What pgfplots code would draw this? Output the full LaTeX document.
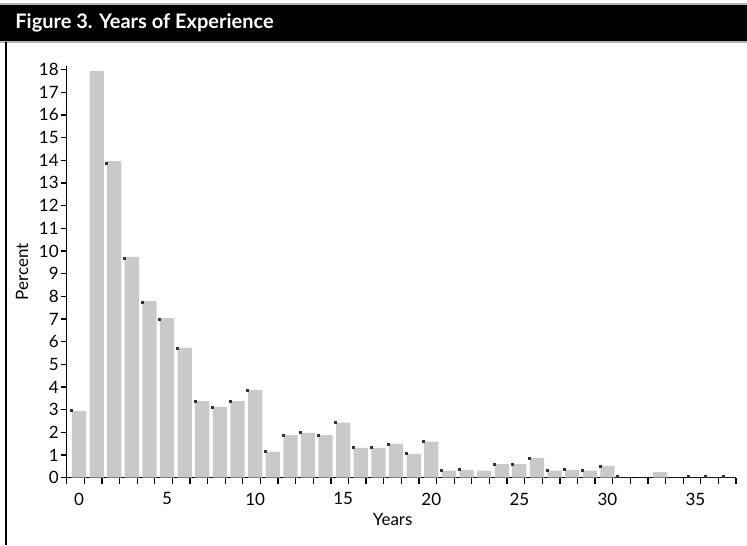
\documentclass[border=0pt]{standalone}
\usepackage{pgfplots}
\pgfplotsset{compat=1.18}
\usepackage{pgfplotstable}
\usepackage{fontspec}
\setmainfont{Lato}
\definecolor{barGray}{HTML}{C8C9CB}
\definecolor{markGray}{HTML}{333333}
\pgfplotstableread{
x y
0 2.95
1 17.93
2 13.96
3 9.74
4 7.79
5 7.04
6 5.73
7 3.38
8 3.12
9 3.38
10 3.87
11 1.15
12 1.88
13 1.98
14 1.88
15 2.43
16 1.32
17 1.32
18 1.49
19 1.05
20 1.59
21 0.31
22 0.35
23 0.31
24 0.60
25 0.60
26 0.87
27 0.31
28 0.35
29 0.31
30 0.52
31 0
32 0
33 0.25
34 0
35 0
36 0
37 0
}\bars
\pgfplotstableread{
x y
0 2.95
2 13.85
3 9.66
4 7.74
5 6.98
6 5.70
7 3.38
8 3.12
9 3.38
10 3.87
11 1.15
12 1.88
13 1.98
14 1.88
15 2.43
16 1.32
17 1.32
18 1.49
19 1.05
20 1.59
21 0.31
22 0.35
24 0.60
25 0.60
26 0.87
27 0.31
28 0.35
29 0.31
30 0.52
31 0.06
35 0.06
36 0.06
37 0.06
}\marks
\begin{document}
\begin{tikzpicture}
\useasboundingbox (0,0) rectangle (373.5pt,-272.5pt);
\fill[black] (0,-2pt) rectangle (373.5pt,-21pt);
\draw[gray!60, line width=0.6pt] (0,-2pt) -- (373.5pt,-2pt);
\draw[gray!60, line width=0.6pt] (0,-21pt) -- (373.5pt,-21pt);
\draw[black, line width=0.65pt] (3pt,-21pt) -- (3pt,-272.5pt);
\node[anchor=west, text=white, inner sep=0pt, font=\bfseries\fontsize{10}{12}\selectfont] at (7.5pt,-11.5pt) {Figure 3. Years of Experience};
\begin{axis}[
  at={(33.35pt,-238.85pt)}, anchor=south west,
  scale only axis, width=334.65pt, height=205.8pt,
  xmin=-0.7, xmax=37.3, ymin=0, ymax=18.15,
  axis x line*=bottom, axis y line*=left,
  axis line style={line width=0.65pt, -},
  tick style={line width=0.65pt, black},
  tick align=outside,
  major tick length=3pt,
  ytick={0,1,...,18},
  xtick={-0.7,0.3,...,37.4},
  xticklabels={},
  extra x ticks={0,5,10,15,20,25,30,35},
  extra x tick labels={0,5,10,15,20,25,30,35},
  extra x tick style={tick style={draw=none}},
  tick label style={font=\fontsize{8.5}{10}\selectfont},
  /pgf/number format/assume math mode=true,
  xticklabel style={yshift=-1pt},
  yticklabel style={xshift=2.5pt},
  xlabel={Years},
  label style={font=\fontsize{8.5}{10}\selectfont},
  xlabel style={at={(axis description cs:0.487,0)}, anchor=north, yshift=-14.5pt},
  clip=false,
]
\addplot[ybar, bar width=0.81, bar shift=0, fill=barGray, draw=none] table[x=x, y=y] {\bars};
\addplot[only marks, mark=square*, mark size=0.5pt, color=markGray] table[x expr=\thisrow{x}-0.42, y=y] {\marks};
\node[rotate=90, anchor=center, inner sep=0pt, font=\fontsize{8.5}{10}\selectfont] at (axis description cs:-0.0668,0.5) {Percent};
\end{axis}
\end{tikzpicture}
\end{document}
